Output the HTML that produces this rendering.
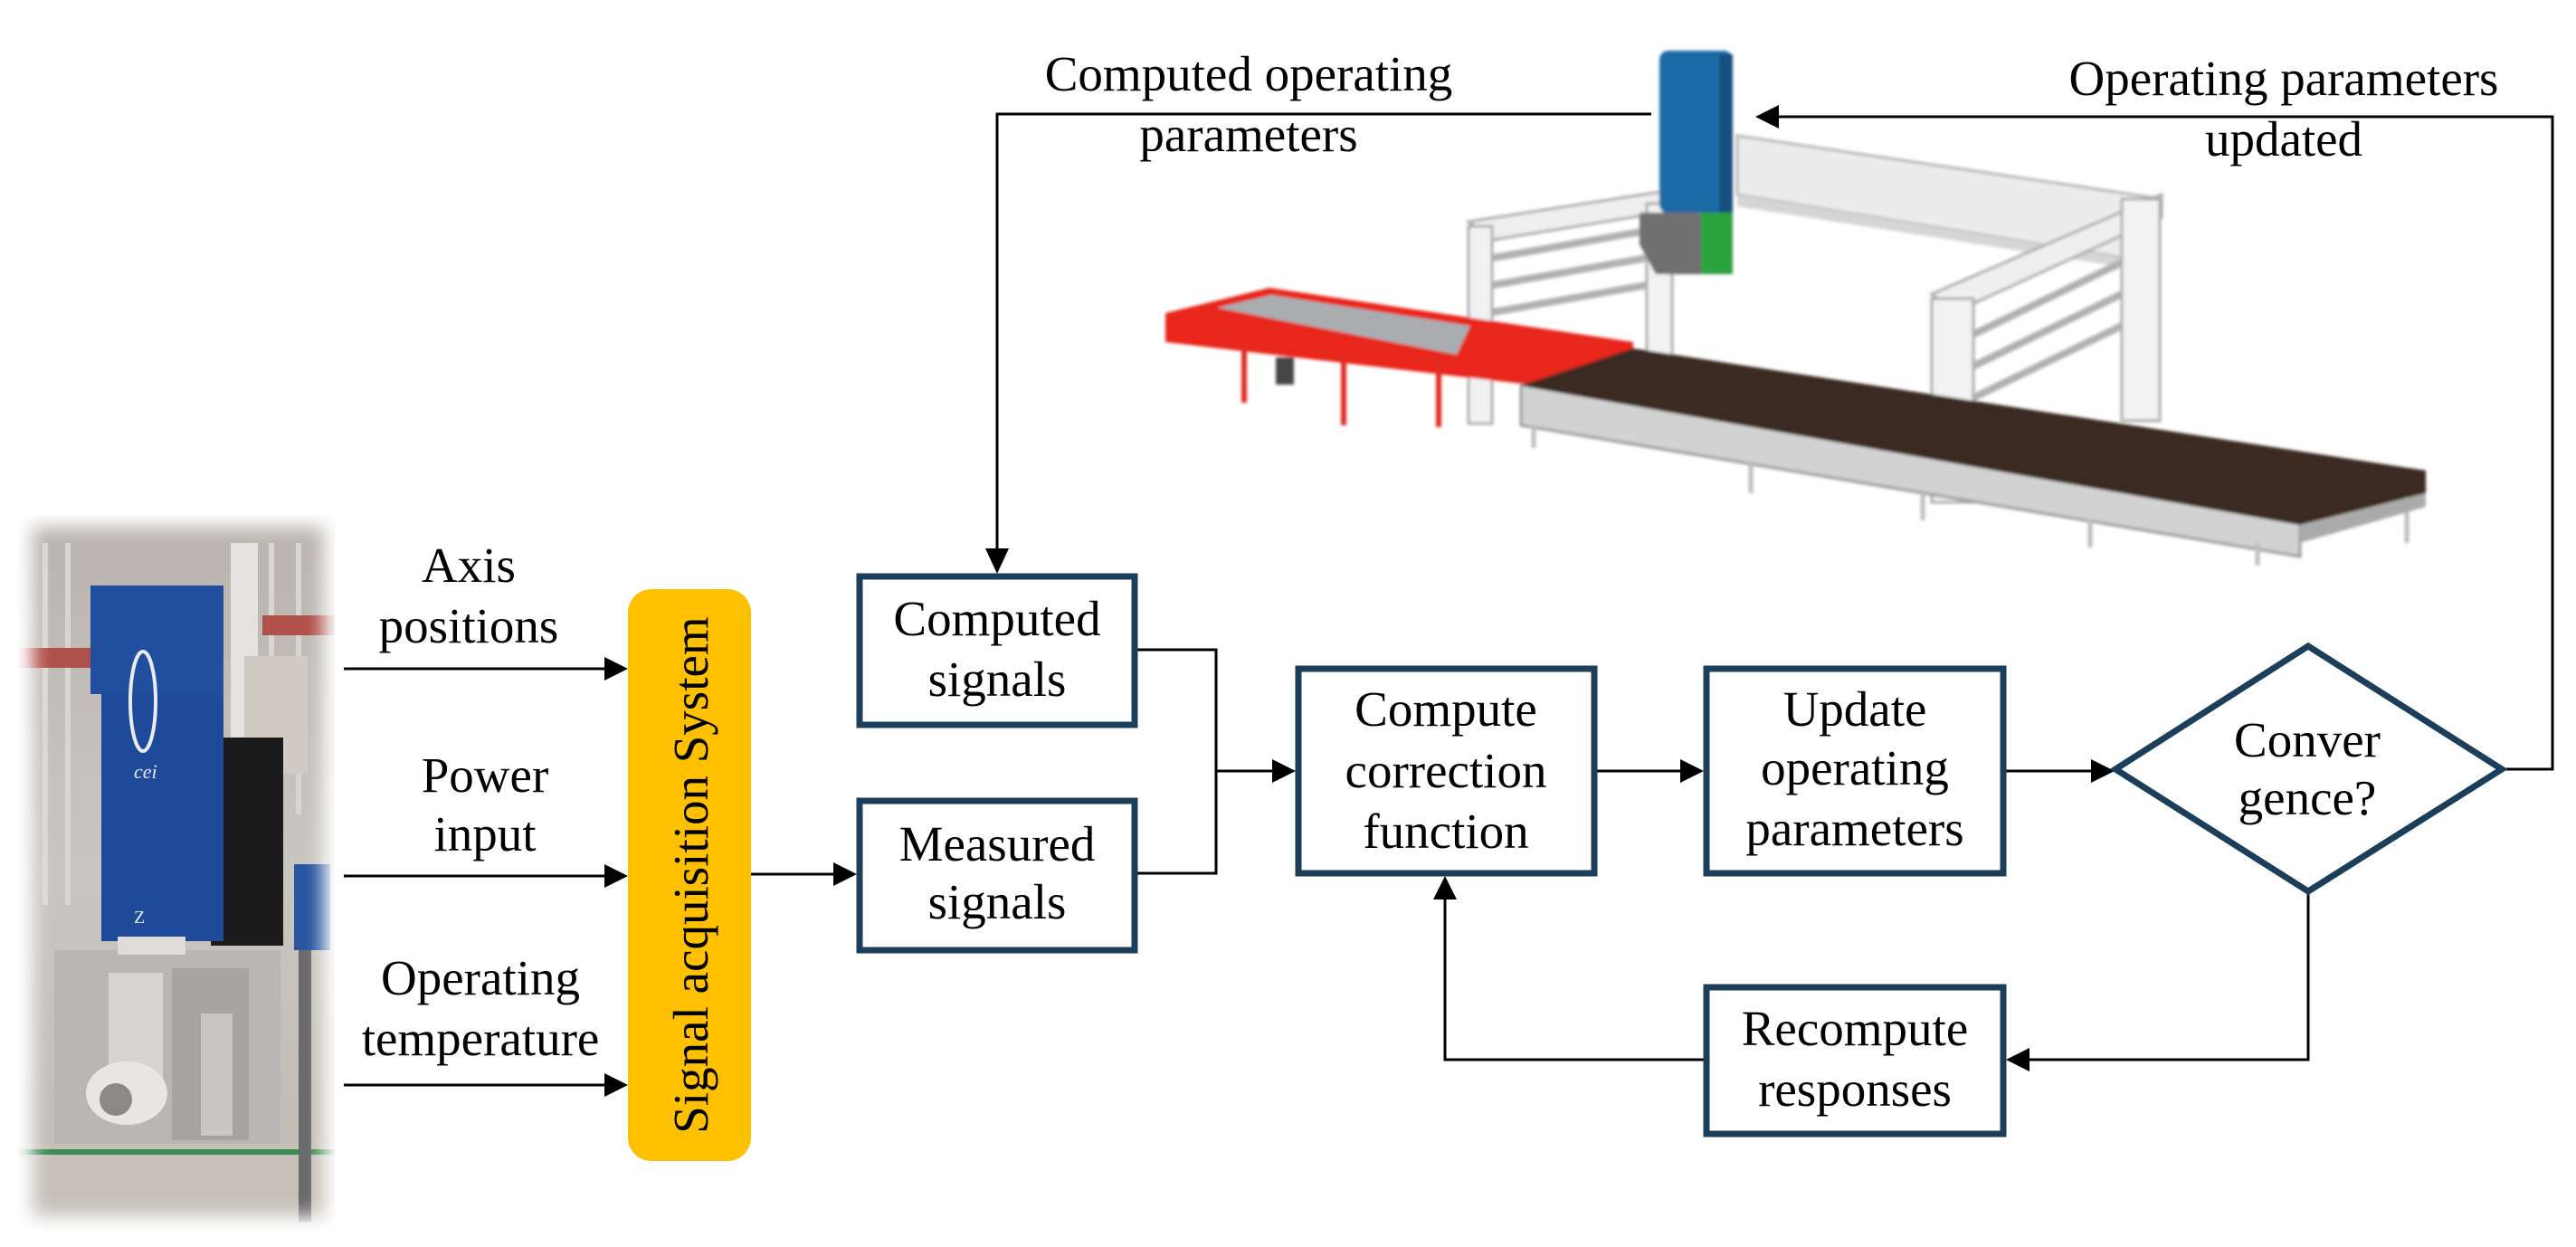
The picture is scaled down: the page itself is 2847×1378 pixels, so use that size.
<!DOCTYPE html>
<html><head><meta charset="utf-8"><style>
html,body{margin:0;padding:0;background:#fff;}
svg{display:block;}
text{font-family:"Liberation Serif",serif;font-size:55px;fill:#000;}
</style></head><body>
<svg width="2847" height="1378" viewBox="0 0 2847 1378" xmlns="http://www.w3.org/2000/svg">
<defs>
<filter id="soft" x="-10%" y="-10%" width="120%" height="120%"><feGaussianBlur stdDeviation="10"/></filter>
<filter id="bl" x="-5%" y="-5%" width="110%" height="110%"><feGaussianBlur stdDeviation="1.5"/></filter>
<linearGradient id="wall" x1="0" y1="0" x2="0" y2="1"><stop offset="0" stop-color="#b9b4ad"/><stop offset="0.5" stop-color="#c9c6c0"/><stop offset="1" stop-color="#bfbab2"/></linearGradient>
<mask id="pm"><rect x="36" y="582" width="322" height="762" fill="#fff" filter="url(#soft)"/></mask>
</defs>

<!-- Photo left -->
<g mask="url(#pm)">
<rect x="20" y="570" width="350" height="790" fill="url(#wall)"/>
<g stroke="#d8d6d2" stroke-width="6"><line x1="50" y1="600" x2="50" y2="1000"/><line x1="75" y1="600" x2="75" y2="1000"/><line x1="300" y1="600" x2="300" y2="900"/><line x1="330" y1="600" x2="330" y2="900"/></g>
<rect x="20" y="716" width="90" height="22" fill="#b0504a"/>
<rect x="290" y="680" width="80" height="22" fill="#b0504a"/>
<rect x="255" y="600" width="30" height="250" fill="#e4e3e1"/>
<rect x="270" y="725" width="70" height="130" fill="#cfcac2"/>
<rect x="325" y="955" width="40" height="95" fill="#2a55a0"/>
<rect x="233" y="815" width="80" height="230" fill="#1c1c1c"/>
<path d="M100 647 L247 647 L247 1040 L112 1040 L112 760 Z" fill="#1f4a9a"/>
<rect x="100" y="647" width="147" height="120" fill="#214e9f"/>
<ellipse cx="158" cy="775" rx="14" ry="55" fill="none" stroke="#e8ecf5" stroke-width="4"/>
<text x="148" y="860" style="font-size:22px;fill:#e8ecf5;font-style:italic">cei</text>
<text x="148" y="1020" style="font-size:20px;fill:#e8ecf5">Z</text>
<path d="M60 1050 L310 1050 L310 1264 L60 1264 Z" fill="#b8b7b3"/>
<rect x="120" y="1075" width="60" height="120" fill="#d6d5d2"/>
<rect x="190" y="1070" width="85" height="190" fill="#a6a5a1"/>
<rect x="222" y="1120" width="35" height="135" fill="#c7c6c2"/>
<ellipse cx="140" cy="1208" rx="45" ry="35" fill="#e7e6e3"/>
<ellipse cx="128" cy="1215" rx="18" ry="18" fill="#8a8986"/>
<rect x="130" y="1035" width="75" height="20" fill="#dedcd8"/>
<rect x="20" y="1264" width="350" height="96" fill="#c5c0b8"/>
<rect x="20" y="1270" width="350" height="6" fill="#3f8a54"/>
<rect x="330" y="1050" width="14" height="300" fill="#6a6a6a"/>
</g>

<!-- Gantry machine -->
<g filter="url(#bl)">
<polygon points="1920,150 2378,218 2378,290 1920,215" fill="#ececec" stroke="#b5b5b5" stroke-width="3"/>
<polygon points="1920,215 2378,290 2378,300 1920,228" fill="#d5d5d5"/>
<polygon points="1623,245 1835,212 1835,235 1650,265" fill="#efefef" stroke="#aaa" stroke-width="3"/>
<rect x="1623" y="250" width="26" height="218" fill="#f2f2f2" stroke="#aaa" stroke-width="3"/>
<rect x="1820" y="225" width="28" height="200" fill="#f2f2f2" stroke="#aaa" stroke-width="3"/>
<g stroke="#b0b0b0" stroke-width="8"><line x1="1650" y1="285" x2="1820" y2="255"/><line x1="1650" y1="315" x2="1820" y2="285"/><line x1="1650" y1="345" x2="1820" y2="315"/></g>
<polygon points="2135,325 2389,215 2389,240 2160,345" fill="#efefef" stroke="#aaa" stroke-width="3"/>
<rect x="2135" y="330" width="46" height="225" fill="#f2f2f2" stroke="#aaa" stroke-width="3"/>
<rect x="2345" y="220" width="42" height="245" fill="#f2f2f2" stroke="#aaa" stroke-width="3"/>
<g stroke="#b0b0b0" stroke-width="8"><line x1="2180" y1="370" x2="2345" y2="290"/><line x1="2180" y1="405" x2="2345" y2="325"/><line x1="2180" y1="440" x2="2345" y2="360"/></g>
<polygon points="1288,346 1403,318 1805,378 1805,401 1690,425 1288,378" fill="#e8281f"/>
<polygon points="1345,340 1405,326 1625,360 1610,392" fill="#a9adb0"/>
<g stroke="#e02a22" stroke-width="6"><line x1="1375" y1="380" x2="1375" y2="445"/><line x1="1485" y1="390" x2="1485" y2="470"/><line x1="1590" y1="400" x2="1590" y2="472"/><line x1="1740" y1="415" x2="1740" y2="460"/></g>
<rect x="1410" y="395" width="20" height="30" fill="#444"/>
<polygon points="1681,425 2542,579 2542,615 1681,470" fill="#d2d2d2" stroke="#999" stroke-width="3"/>
<polygon points="1805,385 2681,520 2681,545 2542,580 1681,426" fill="#3a2a22"/>
<g stroke="#bdbdbd" stroke-width="5"><line x1="1695" y1="470" x2="1695" y2="495"/><line x1="1935" y1="510" x2="1935" y2="545"/><line x1="2125" y1="545" x2="2125" y2="575"/><line x1="2310" y1="575" x2="2310" y2="605"/><line x1="2495" y1="600" x2="2495" y2="625"/><line x1="2660" y1="550" x2="2660" y2="600"/></g>
<polygon points="2542,580 2681,545 2681,560 2542,600" fill="#aaa"/>
<rect x="1834" y="56" width="81" height="180" rx="10" fill="#1f6aa5"/>
<rect x="1900" y="60" width="15" height="175" fill="#17507d"/>
<polygon points="1812,235 1880,235 1880,303 1830,303 1812,270" fill="#6f6f6f"/>
<rect x="1880" y="235" width="35" height="68" fill="#2ba33c"/>
</g>

<!-- Lines -->
<g stroke="#000" stroke-width="3" fill="none">
<line x1="380" y1="739" x2="672" y2="739"/>
<line x1="380" y1="968" x2="672" y2="968"/>
<line x1="380" y1="1199" x2="672" y2="1199"/>
<line x1="830" y1="966" x2="926" y2="966"/>
<polyline points="1257,718 1344,718 1344,965 1257,965"/>
<line x1="1344" y1="852" x2="1412" y2="852"/>
<line x1="1765" y1="852" x2="1862" y2="852"/>
<line x1="2217" y1="852" x2="2316" y2="852"/>
<polyline points="2766,850 2821,850 2821,129 1962,129"/>
<polyline points="1825,126 1102,126 1102,612"/>
<polyline points="2551,986 2551,1171 2240,1171"/>
<polyline points="1883,1171 1597,1171 1597,990"/>
</g>
<g fill="#000">
<polygon points="694,739 668,726 668,752"/>
<polygon points="694,968 668,955 668,981"/>
<polygon points="694,1199 668,1186 668,1212"/>
<polygon points="947,966 921,953 921,979"/>
<polygon points="1432,852 1406,839 1406,865"/>
<polygon points="1883,852 1857,839 1857,865"/>
<polygon points="2337,852 2311,839 2311,865"/>
<polygon points="1940,129 1966,116 1966,142"/>
<polygon points="1102,634 1089,606 1115,606"/>
<polygon points="2217,1171 2243,1158 2243,1184"/>
<polygon points="1597,968 1584,994 1610,994"/>
</g>

<rect x="694" y="651" width="136" height="632" rx="26" fill="#ffc000"/>
<text transform="translate(782,967) rotate(-90)" text-anchor="middle">Signal acquisition System</text>

<g fill="#fff" stroke="#1b3f5a" stroke-width="7">
<rect x="950" y="637" width="304" height="164"/>
<rect x="950" y="885" width="304" height="165"/>
<rect x="1435" y="739" width="327" height="226"/>
<rect x="1886" y="739" width="328" height="226"/>
<rect x="1886" y="1091" width="328" height="162"/>
<polygon points="2551,714 2765,850 2551,985 2338,850"/>
</g>

<g text-anchor="middle">
<text x="518" y="643">Axis</text><text x="518" y="710">positions</text>
<text x="536" y="875">Power</text><text x="536" y="940">input</text>
<text x="531" y="1099">Operating</text><text x="531" y="1166">temperature</text>
<text x="1102" y="702">Computed</text><text x="1102" y="769">signals</text>
<text x="1102" y="951">Measured</text><text x="1102" y="1015">signals</text>
<text x="1598" y="802">Compute</text><text x="1598" y="870">correction</text><text x="1598" y="937">function</text>
<text x="2050" y="802">Update</text><text x="2050" y="867">operating</text><text x="2050" y="934">parameters</text>
<text x="2550" y="836">Conver</text><text x="2550" y="900">gence?</text>
<text x="2050" y="1155">Recompute</text><text x="2050" y="1222">responses</text>
<text x="1380" y="100">Computed operating</text><text x="1380" y="167">parameters</text>
<text x="2524" y="105">Operating parameters</text><text x="2524" y="172">updated</text>
</g>
</svg>
</body></html>
